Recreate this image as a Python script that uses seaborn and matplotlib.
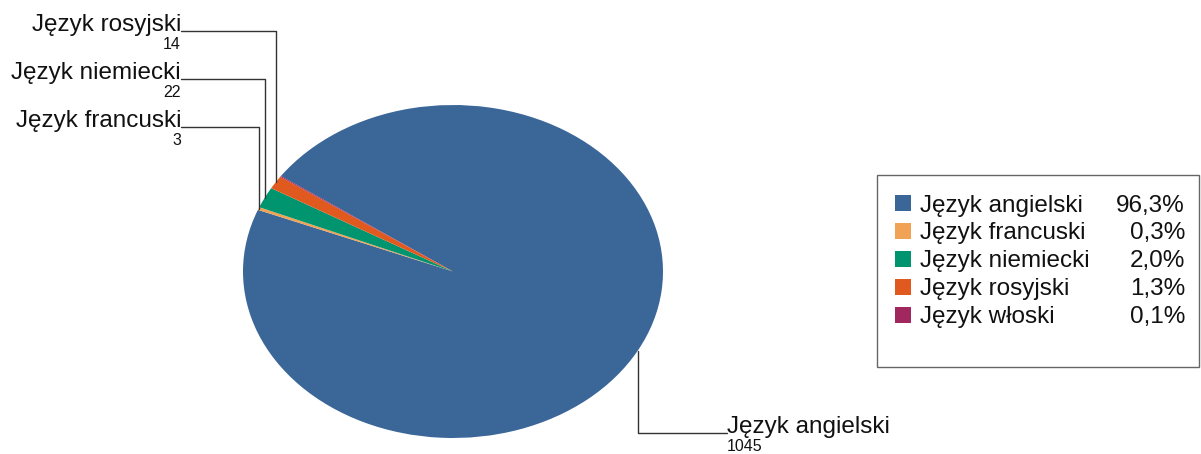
import matplotlib
matplotlib.use("Agg")
import matplotlib.pyplot as plt
import seaborn as sns
import numpy as np
from matplotlib.lines import Line2D
from matplotlib.patches import Rectangle

categories = ["Język angielski", "Język francuski", "Język niemiecki", "Język rosyjski", "Język włoski"]
values = [1045, 3, 22, 14, 1]
colors = ["#3A6698", "#F0A354", "#00956F", "#E05A1F", "#A0285F"]

sns.set_theme(style="white")
plt.rcParams['font.family'] = ['Liberation Sans', 'DejaVu Sans']

W, H = 1201, 454
fig = plt.figure(figsize=(W / 100, H / 100), dpi=100)

def fx(x):
    return x / W

def fy(y):
    return 1 - y / H

# pie axes covering the ellipse
left, top, right, bottom = 243, 105, 663, 438
ax = fig.add_axes([fx(left), fy(bottom), (right - left) / W, (bottom - top) / H])
wedges, _ = ax.pie(values, colors=sns.color_palette(colors), startangle=145,
                   counterclock=False, radius=1.0,
                   wedgeprops=dict(linewidth=0))
ax.set_aspect('auto')
ax.set_xlim(-1, 1)
ax.set_ylim(-1, 1)
ax.axis('off')

fig.canvas.draw()
inv = fig.transFigure.inverted()

def edge_point(w):
    ang = np.deg2rad((w.theta1 + w.theta2) / 2)
    disp = ax.transData.transform((np.cos(ang), np.sin(ang)))
    return inv.transform(disp)

line_col = "#333333"
name_fs = 17.5
val_fs = 11.5

# labels: (index, label line y in px, label anchor x in px, side)
label_layout = [(3, 31, 181, 'left'), (2, 79, 181, 'left'), (1, 127, 181, 'left'), (0, 433, 727, 'right')]
for idx, ly, lx, side in label_layout:
    ex, ey = edge_point(wedges[idx])
    yl = fy(ly)
    fig.add_artist(Line2D([ex, ex, fx(lx)], [ey, yl, yl], color=line_col, lw=1.0))
    ha = 'right' if side == 'left' else 'left'
    fig.text(fx(lx), yl, categories[idx], ha=ha, va='baseline', fontsize=name_fs, color='#111111')
    fig.text(fx(lx), fy(ly + 6), str(values[idx]), ha=ha, va='top', fontsize=val_fs, color='#111111')

# legend
box = Rectangle((fx(877), fy(367)), (1199 - 877) / W, (367 - 175) / H, transform=fig.transFigure,
                facecolor='white', edgecolor='#666666', lw=1.0)
fig.add_artist(box)
total = sum(values)
for i, (cat, v, c) in enumerate(zip(categories, values, colors)):
    cy = 203 + 28 * i
    fig.add_artist(Rectangle((fx(895), fy(cy + 8)), 16 / W, 16 / H, transform=fig.transFigure,
                             facecolor=c, edgecolor='none'))
    fig.text(fx(920), fy(cy), cat, ha='left', va='center_baseline', fontsize=name_fs, color='#111111')
    pct = f"{100 * v / total:.1f}%".replace('.', ',')
    fig.text(fx(1185), fy(cy), pct, ha='right', va='center_baseline', fontsize=name_fs, color='#111111')

fig.savefig("out.png", dpi=100, facecolor='white')
